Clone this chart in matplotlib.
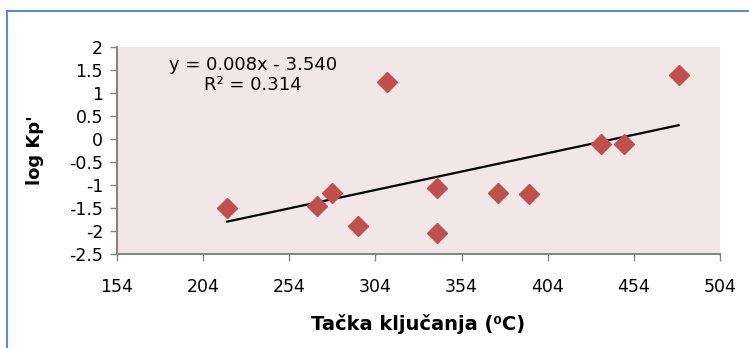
import matplotlib
matplotlib.use("Agg")
import matplotlib.pyplot as plt
from matplotlib.lines import Line2D
import numpy as np

plt.rcParams['font.family'] = ['DejaVu Sans']
plt.rcParams['axes.unicode_minus'] = False

# Data
boiling_point = [218, 270, 279, 294, 311, 340, 340, 375, 393, 435, 448, 480]
log_kp = [-1.50, -1.45, -1.17, -1.90, 1.25, -1.07, -2.05, -1.17, -1.20, -0.10, -0.10, 1.40]
trend_slope = 0.008
trend_intercept = -3.540
r_squared = 0.314
x_ticks = [154, 204, 254, 304, 354, 404, 454, 504]
y_ticks = [-2.5, -2, -1.5, -1, -0.5, 0, 0.5, 1, 1.5, 2]

fig = plt.figure(figsize=(7.49, 3.48), dpi=100)
ax = fig.add_axes([117/749, 1 - 254/348, (720-117)/749, (254-47)/348])
ax.set_facecolor('#F2E7E7')

ax.plot(boiling_point, log_kp, linestyle='none', marker='D', markersize=10,
        color='#C0504D', zorder=3)

tx = np.array([min(boiling_point), max(boiling_point)])
ax.plot(tx, trend_slope * tx + trend_intercept, color='black', linewidth=1.6, zorder=2)

ax.text(233, 1.39, f"y = {trend_slope:.3f}x - {abs(trend_intercept):.3f}\nR² = {r_squared:.3f}",
        ha='center', va='center', fontsize=13, linespacing=1.2)

ax.set_xlim(154, 504)
ax.set_ylim(-2.5, 2)
ax.set_xticks(x_ticks)
ax.set_xticklabels([str(v) for v in x_ticks])
ax.set_yticks(y_ticks)
ax.set_yticklabels([f"{v:g}" for v in y_ticks])

for s in ['top', 'right']:
    ax.spines[s].set_visible(False)
for s in ['left', 'bottom']:
    ax.spines[s].set_color('#868686')
    ax.spines[s].set_linewidth(1.5)
ax.tick_params(axis='both', direction='out', length=5, width=1, color='#868686',
               labelsize=12.5, labelcolor='black')
ax.tick_params(axis='x', pad=12)
ax.tick_params(axis='y', pad=5)

ax.set_xlabel("Tačka ključanja (⁰C)", fontsize=14, fontweight='bold', labelpad=13)
ax.set_ylabel("log Kp'", fontsize=13, fontweight='bold', labelpad=18)

# Blue chart border (left and top)
fig.add_artist(Line2D([7/749, 7/749], [0, 1 - 11/348], transform=fig.transFigure,
                      color='#5B8BC9', linewidth=1.5))
fig.add_artist(Line2D([7/749, 1], [1 - 11/348, 1 - 11/348], transform=fig.transFigure,
                      color='#5B8BC9', linewidth=1.5))

fig.savefig('out.png', dpi=100)
